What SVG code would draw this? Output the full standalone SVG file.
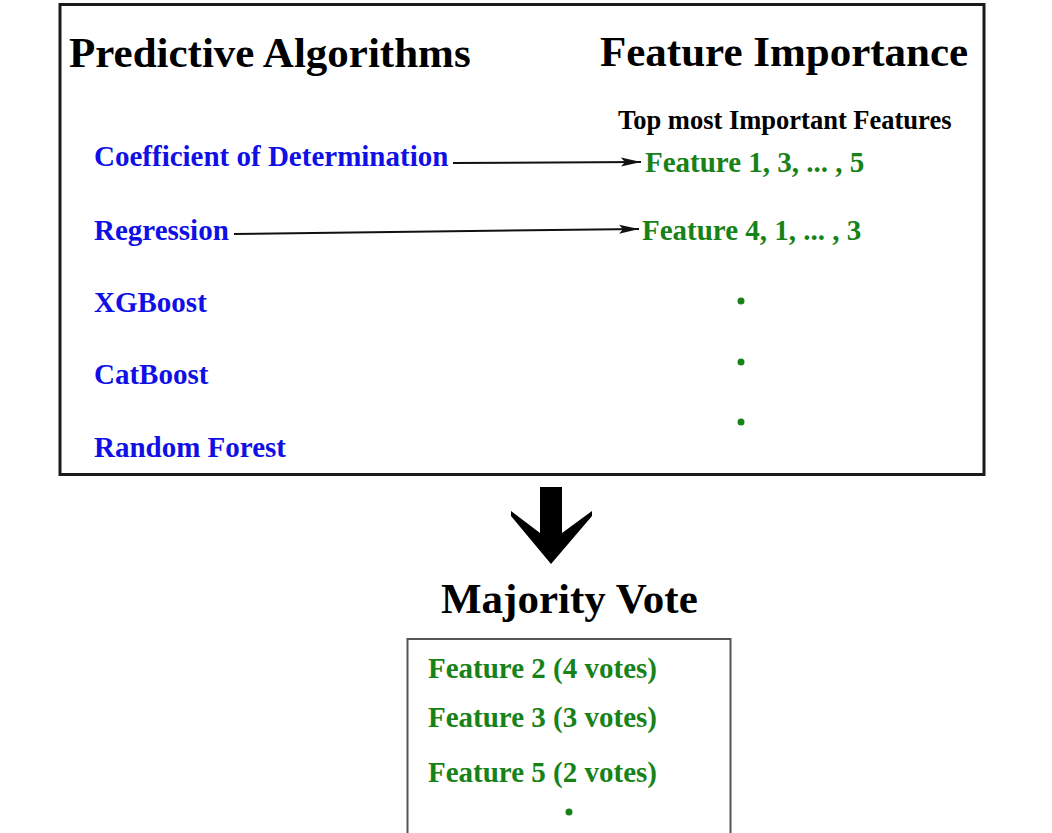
<svg xmlns="http://www.w3.org/2000/svg" width="1052" height="833" viewBox="0 0 1052 833">
<style>
.h{font-family:"Liberation Serif","Times New Roman",serif;font-weight:bold;fill:#000;}
.alg{font-family:"Liberation Serif","Times New Roman",serif;font-weight:bold;font-size:29px;fill:#0f0fe6;}
.feat{font-family:"Liberation Serif","Times New Roman",serif;font-weight:bold;font-size:29px;fill:#178217;}
.dot{fill:#178217;}
.conn{stroke:#111;stroke-width:2;fill:none;}
</style>
<defs>
<marker id="ah" markerUnits="userSpaceOnUse" markerWidth="20" markerHeight="10" viewBox="0 0 20 10" refX="20" refY="5" orient="auto">
<path d="M0,0.5 L20,5 L0,9.5 L4,5 Z" fill="#111"/>
</marker>
</defs>
<rect width="1052" height="833" fill="#fff"/>
<g id="top-box">
<rect x="60" y="4.5" width="924" height="470" fill="none" stroke="#1a1a1a" stroke-width="3"/>
<text class="h" x="69" y="67" font-size="43">Predictive Algorithms</text>
<text class="h" x="600" y="66" font-size="43">Feature Importance</text>
<text class="h" x="618" y="129" font-size="26.5">Top most Important Features</text>
</g>
<g id="alg-cod"><text class="alg" x="94" y="166">Coefficient of Determination</text></g>
<g id="alg-reg"><text class="alg" x="94" y="240">Regression</text></g>
<g id="alg-xgb"><text class="alg" x="94" y="312">XGBoost</text></g>
<g id="alg-cat"><text class="alg" x="94" y="384">CatBoost</text></g>
<g id="alg-rf"><text class="alg" x="94" y="457">Random Forest</text></g>
<g id="feat-1"><text class="feat" x="645" y="172">Feature 1, 3, ... , 5</text></g>
<g id="feat-2"><text class="feat" x="642" y="240">Feature 4, 1, ... , 3</text></g>
<g id="feat-dots">
<circle class="dot" cx="741" cy="301" r="3.5"/>
<circle class="dot" cx="741" cy="362" r="3.5"/>
<circle class="dot" cx="741" cy="422" r="3.5"/>
</g>
<g id="connectors">
<line class="conn" x1="453" y1="163" x2="641" y2="162" marker-end="url(#ah)"/>
<line class="conn" x1="234" y1="234" x2="639" y2="229" marker-end="url(#ah)"/>
<polygon points="540,487 562,487 562,533 592,511 592,516 551,564 511,516 511,511 540,533" fill="#000"/>
</g>
<g id="majority">
<text class="h" x="441" y="613" font-size="43">Majority Vote</text>
<rect x="407.5" y="639" width="323" height="210" fill="none" stroke="#555" stroke-width="2"/>
<text class="feat" x="428" y="678">Feature 2 (4 votes)</text>
<text class="feat" x="428" y="727">Feature 3 (3 votes)</text>
<text class="feat" x="428" y="782">Feature 5 (2 votes)</text>
<circle class="dot" cx="569" cy="812" r="3.5"/>
</g>
</svg>
